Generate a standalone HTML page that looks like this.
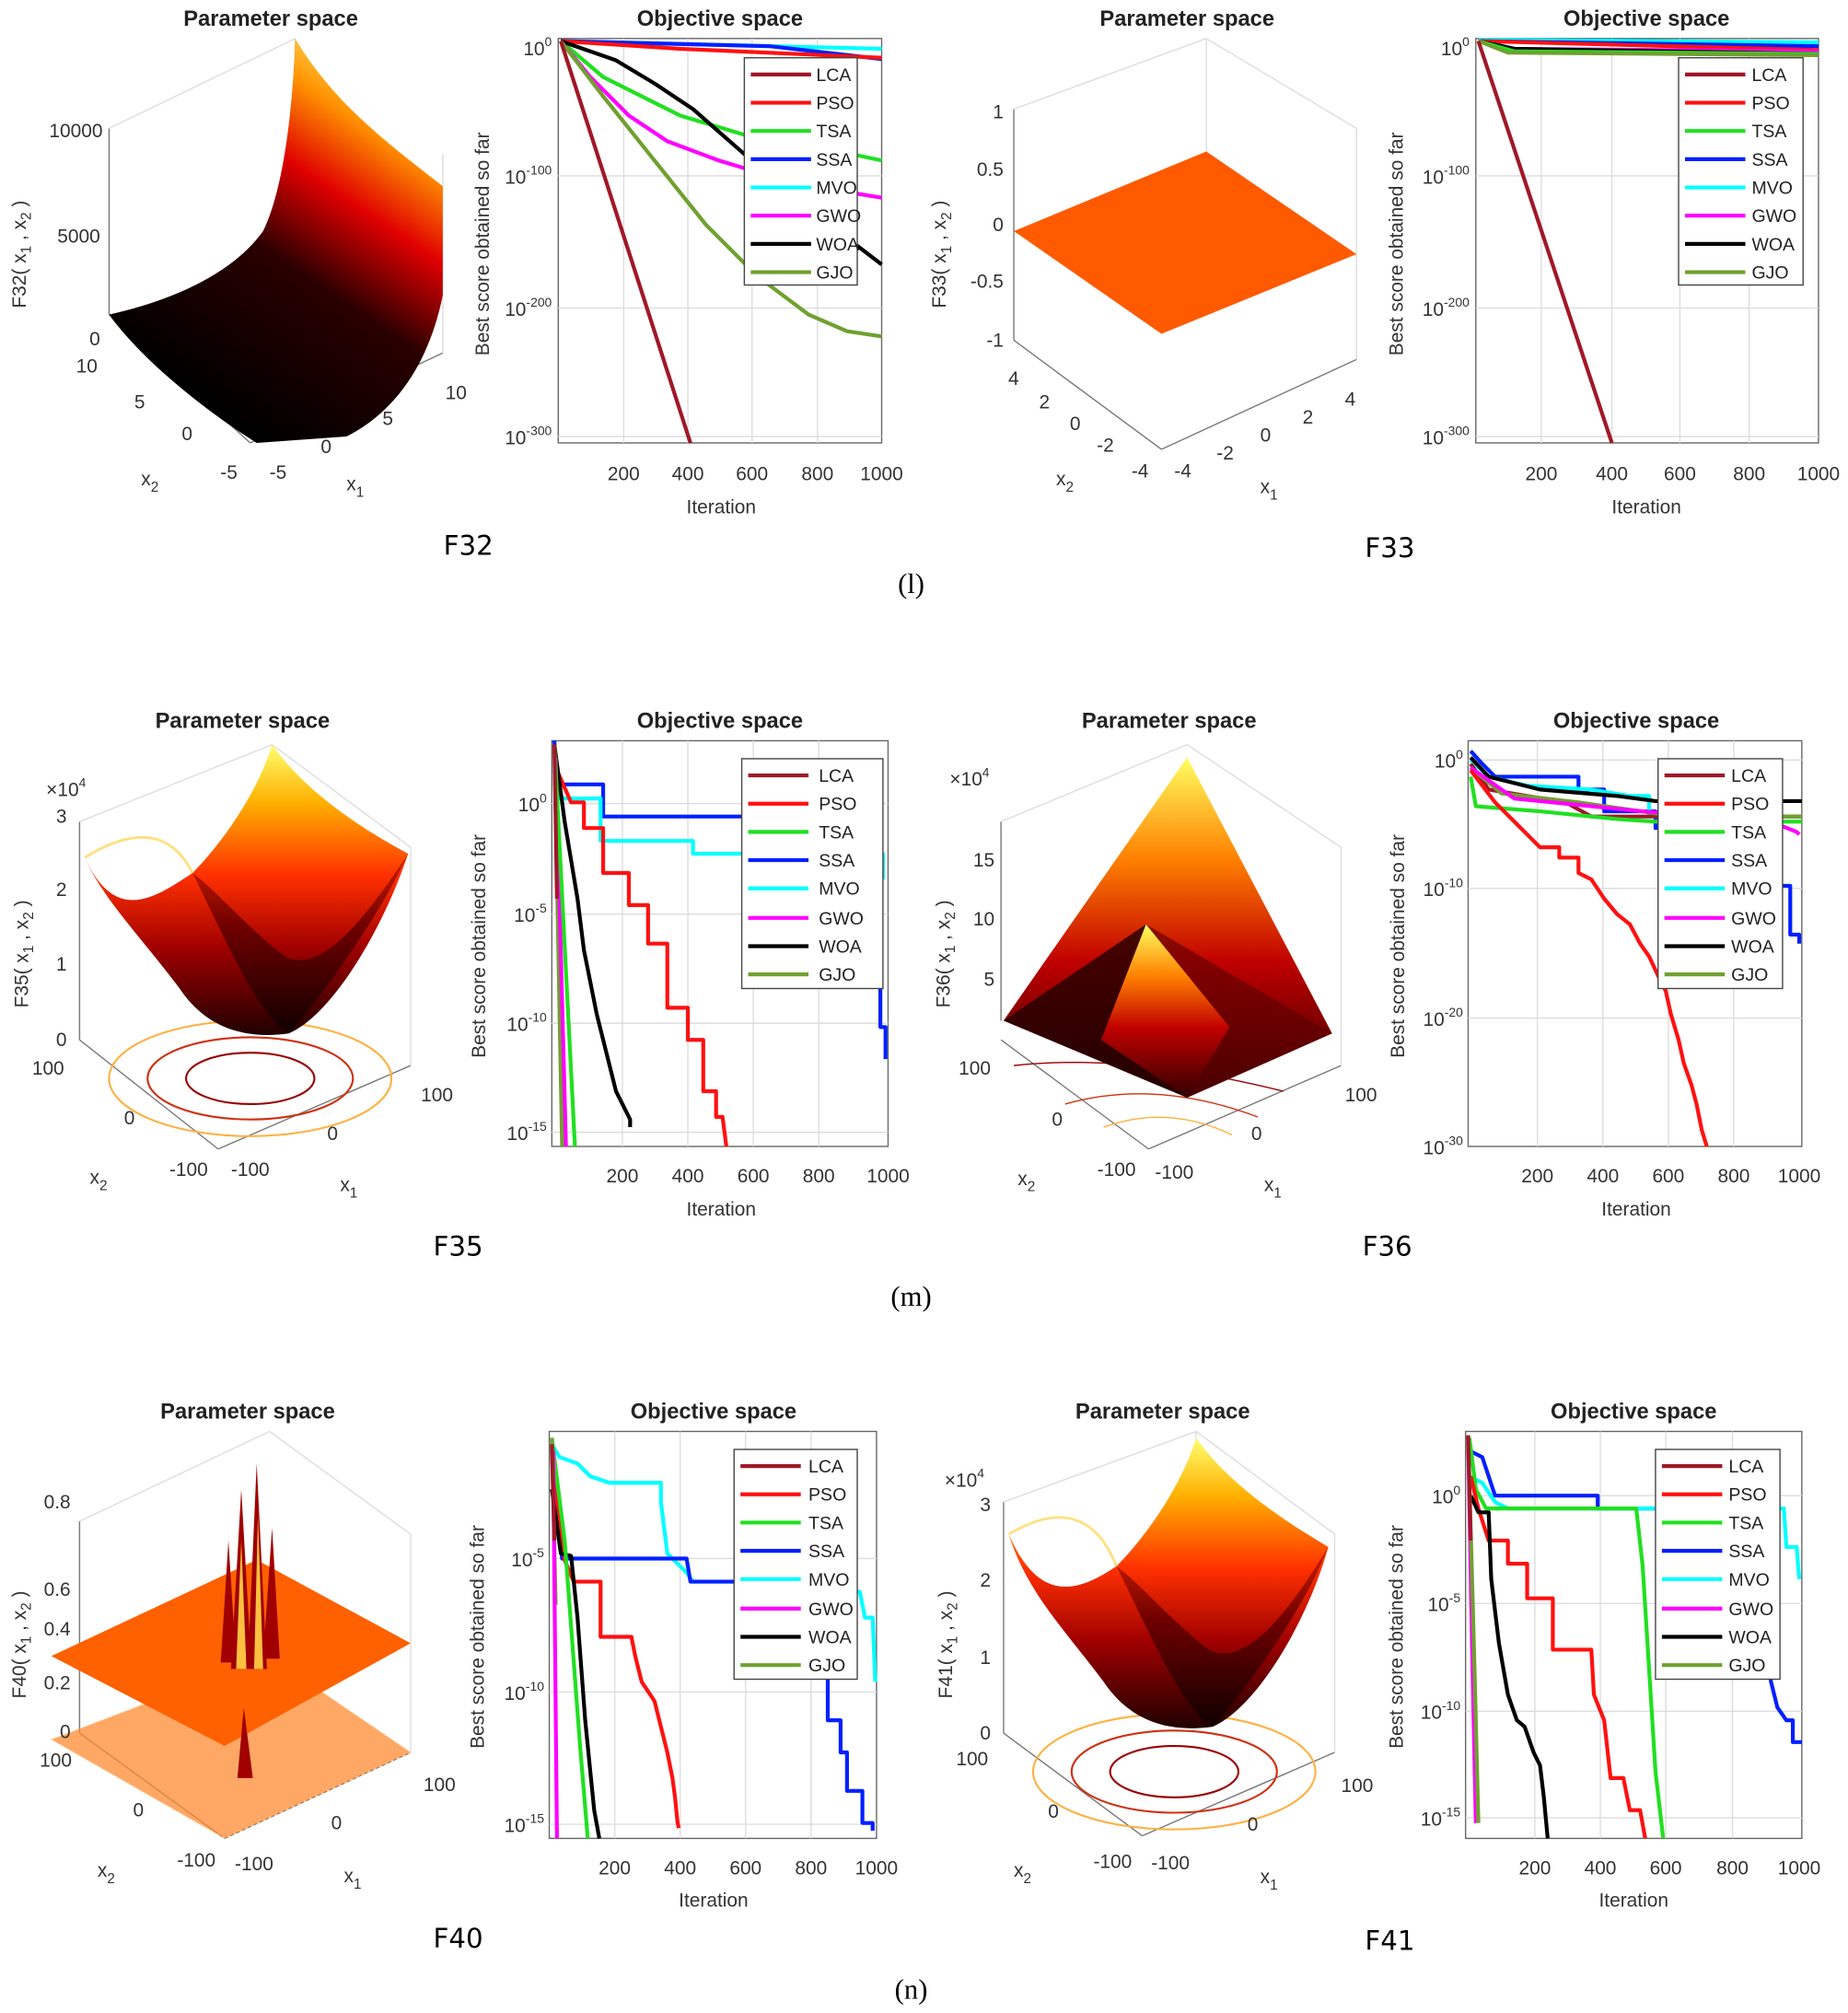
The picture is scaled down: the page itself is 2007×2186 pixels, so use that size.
<!DOCTYPE html>
<html><head><meta charset="utf-8"><style>
html,body{margin:0;padding:0;background:#fff}
svg{display:block}
text{font-family:"Liberation Sans",Arial,sans-serif;fill:#222}
.t{font-weight:bold;font-size:17px}
.tk{font-size:15px;fill:#333}
.lg{font-size:14px}
.cap{font-family:"Liberation Serif",serif;font-size:22px;fill:#000}
.fl{font-family:"DejaVu Sans",sans-serif;font-size:21px;fill:#000}
.g{stroke:#ddd;stroke-width:1}
.ax{fill:none;stroke:#777;stroke-width:1}
.c{fill:none;stroke-width:3;stroke-linejoin:round}
</style></head><body>
<svg width="2007" height="2186" viewBox="0 0 1440 1568" preserveAspectRatio="none" xmlns="http://www.w3.org/2000/svg">
<defs>
<linearGradient id="hot1" x1="0.3" y1="0.9" x2="0.8" y2="0">
<stop offset="0" stop-color="#000"/><stop offset="0.4" stop-color="#2a0000"/><stop offset="0.62" stop-color="#e00000"/><stop offset="0.8" stop-color="#ff9000"/><stop offset="1" stop-color="#ffff80"/></linearGradient>
<linearGradient id="hot2" x1="0" y1="1" x2="0" y2="0">
<stop offset="0" stop-color="#200000"/><stop offset="0.3" stop-color="#a00000"/><stop offset="0.55" stop-color="#ff3000"/><stop offset="0.8" stop-color="#ffb000"/><stop offset="1" stop-color="#ffff70"/></linearGradient>
<linearGradient id="dk" x1="0" y1="1" x2="0" y2="0">
<stop offset="0" stop-color="#100000"/><stop offset="0.6" stop-color="#700000"/><stop offset="1" stop-color="#d02000"/></linearGradient>
<linearGradient id="hot3" x1="0" y1="1" x2="0" y2="0">
<stop offset="0" stop-color="#300000"/><stop offset="0.4" stop-color="#c00000"/><stop offset="0.7" stop-color="#ff8000"/><stop offset="1" stop-color="#ffff60"/></linearGradient>
</defs>

<!-- ============ ROW 1 ============ -->
<text class="t" x="211" y="20" text-anchor="middle">Parameter space</text>
<g class="ax">
<line x1="85" y1="100" x2="85" y2="245"/><line x1="85" y1="245" x2="195" y2="345"/><line x1="195" y1="345" x2="345" y2="275"/>
<line x1="85" y1="100" x2="230" y2="30" stroke="#ddd"/><line x1="230" y1="30" x2="230" y2="180" stroke="#ddd"/><line x1="345" y1="120" x2="345" y2="275" stroke="#ddd"/>
</g>
<path d="M85,245 C130,235 180,215 205,180 C220,150 228,90 230,30 C260,80 300,110 345,145 L345,230 C335,280 310,320 270,340 L200,345 C160,320 110,280 85,245 Z" fill="url(#hot1)"/>
<text class="tk" x="80" y="107" text-anchor="end">10000</text><text class="tk" x="78" y="189" text-anchor="end">5000</text><text class="tk" x="78" y="269" text-anchor="end">0</text>
<text class="tk" x="76" y="290" text-anchor="end">10</text><text class="tk" x="113" y="318" text-anchor="end">5</text><text class="tk" x="150" y="343" text-anchor="end">0</text><text class="tk" x="185" y="373" text-anchor="end">-5</text>
<text class="tk" x="210" y="373">-5</text><text class="tk" x="250" y="353">0</text><text class="tk" x="298" y="331">5</text><text class="tk" x="347" y="311">10</text>
<text class="tk" x="110" y="378">x<tspan font-size="11" dy="5">2</tspan></text><text class="tk" x="270" y="382">x<tspan font-size="11" dy="5">1</tspan></text>
<text class="tk" transform="translate(20,240) rotate(-90)">F32( x<tspan font-size="11" dy="4">1</tspan><tspan dy="-4"> , x</tspan><tspan font-size="11" dy="4">2</tspan><tspan dy="-4"> )</tspan></text>

<text class="t" x="561" y="20" text-anchor="middle">Objective space</text>
<rect x="435" y="30" width="252" height="315" fill="#fff" stroke="#666"/>
<g class="g"><line x1="486" y1="30" x2="486" y2="345"/><line x1="536" y1="30" x2="536" y2="345"/><line x1="586" y1="30" x2="586" y2="345"/><line x1="637" y1="30" x2="637" y2="345"/><line x1="435" y1="137" x2="687" y2="137"/><line x1="435" y1="240" x2="687" y2="240"/><line x1="435" y1="340" x2="687" y2="340"/></g>
<polyline class="c" stroke="#00ffff" points="437,32 687,38"/>
<polyline class="c" stroke="#0020ff" points="437,32 600,36 687,46"/>
<polyline class="c" stroke="#ff1010" points="437,32 530,38 620,42 687,45"/>
<polyline class="c" stroke="#20e020" points="437,32 470,60 530,90 580,105 640,115 687,125"/>
<polyline class="c" stroke="#ff00ff" points="437,32 460,60 490,90 520,110 560,125 620,143 687,154"/>
<polyline class="c" stroke="#000" points="437,32 460,40 480,47 510,65 540,85 580,120 640,170 687,206"/>
<polyline class="c" stroke="#70a030" points="437,32 470,75 510,125 550,175 590,215 630,245 660,258 687,262"/>
<polyline class="c" stroke="#a01828" stroke-width="2.5" points="437,32 538,345"/>
<g>
<rect x="580" y="45" width="88" height="177" fill="#fff" stroke="#444"/>
<g stroke-width="3"><line x1="585" y1="58" x2="632" y2="58" stroke="#a01828"/><line x1="585" y1="80" x2="632" y2="80" stroke="#ff1010"/><line x1="585" y1="102" x2="632" y2="102" stroke="#20e020"/><line x1="585" y1="124" x2="632" y2="124" stroke="#0020ff"/><line x1="585" y1="146" x2="632" y2="146" stroke="#00ffff"/><line x1="585" y1="168" x2="632" y2="168" stroke="#ff00ff"/><line x1="585" y1="190" x2="632" y2="190" stroke="#000"/><line x1="585" y1="212" x2="632" y2="212" stroke="#70a030"/></g>
<g class="lg"><text x="636" y="63">LCA</text><text x="636" y="85">PSO</text><text x="636" y="107">TSA</text><text x="636" y="129">SSA</text><text x="636" y="151">MVO</text><text x="636" y="173">GWO</text><text x="636" y="195">WOA</text><text x="636" y="217">GJO</text></g></g>
<text class="tk" x="430" y="43" text-anchor="end">10<tspan font-size="10" dy="-7">0</tspan></text>
<text class="tk" x="430" y="143" text-anchor="end">10<tspan font-size="10" dy="-7">-100</tspan></text>
<text class="tk" x="430" y="246" text-anchor="end">10<tspan font-size="10" dy="-7">-200</tspan></text>
<text class="tk" x="430" y="346" text-anchor="end">10<tspan font-size="10" dy="-7">-300</tspan></text>
<text class="tk" x="486" y="374" text-anchor="middle">200</text><text class="tk" x="536" y="374" text-anchor="middle">400</text><text class="tk" x="586" y="374" text-anchor="middle">600</text><text class="tk" x="637" y="374" text-anchor="middle">800</text><text class="tk" x="687" y="374" text-anchor="middle">1000</text>
<text class="tk" x="562" y="400" text-anchor="middle" font-size="16">Iteration</text>
<text class="tk" font-size="16" transform="translate(381,190) rotate(-90)" text-anchor="middle">Best score obtained so far</text>
<text class="fl" x="365" y="432" text-anchor="middle">F32</text>

<!-- F33 -->
<text class="t" x="925" y="20" text-anchor="middle">Parameter space</text>
<g class="ax">
<line x1="790" y1="85" x2="790" y2="265"/><line x1="790" y1="265" x2="905" y2="350"/><line x1="905" y1="350" x2="1057" y2="280"/>
<line x1="790" y1="85" x2="940" y2="30" stroke="#ddd"/><line x1="940" y1="30" x2="1057" y2="100" stroke="#ddd"/><line x1="1057" y1="100" x2="1057" y2="280" stroke="#ddd"/><line x1="940" y1="30" x2="940" y2="210" stroke="#ddd"/>
</g>
<polygon points="790,180 940,118 1057,198 905,260" fill="#ff5a00"/>
<text class="tk" x="782" y="92" text-anchor="end">1</text><text class="tk" x="782" y="137" text-anchor="end">0.5</text><text class="tk" x="782" y="180" text-anchor="end">0</text><text class="tk" x="782" y="224" text-anchor="end">-0.5</text><text class="tk" x="782" y="270" text-anchor="end">-1</text>
<text class="tk" x="794" y="300" text-anchor="end">4</text><text class="tk" x="818" y="318" text-anchor="end">2</text><text class="tk" x="842" y="335" text-anchor="end">0</text><text class="tk" x="868" y="352" text-anchor="end">-2</text><text class="tk" x="895" y="372" text-anchor="end">-4</text>
<text class="tk" x="915" y="372">-4</text><text class="tk" x="948" y="358">-2</text><text class="tk" x="982" y="344">0</text><text class="tk" x="1015" y="330">2</text><text class="tk" x="1048" y="316">4</text>
<text class="tk" x="823" y="378">x<tspan font-size="11" dy="5">2</tspan></text><text class="tk" x="982" y="384">x<tspan font-size="11" dy="5">1</tspan></text>
<text class="tk" transform="translate(737,240) rotate(-90)">F33( x<tspan font-size="11" dy="4">1</tspan><tspan dy="-4"> , x</tspan><tspan font-size="11" dy="4">2</tspan><tspan dy="-4"> )</tspan></text>

<text class="t" x="1283" y="20" text-anchor="middle">Objective space</text>
<rect x="1150" y="30" width="267" height="315" fill="#fff" stroke="#666"/>
<g class="g"><line x1="1201" y1="30" x2="1201" y2="345"/><line x1="1256" y1="30" x2="1256" y2="345"/><line x1="1309" y1="30" x2="1309" y2="345"/><line x1="1363" y1="30" x2="1363" y2="345"/><line x1="1150" y1="137" x2="1417" y2="137"/><line x1="1150" y1="240" x2="1417" y2="240"/><line x1="1150" y1="340" x2="1417" y2="340"/></g>
<polyline class="c" stroke="#00ffff" points="1152,31 1417,33"/>
<polyline class="c" stroke="#0020ff" points="1152,32 1417,36"/>
<polyline class="c" stroke="#ff1010" points="1152,32 1417,39"/>
<polyline class="c" stroke="#ff00ff" points="1152,32 1180,38 1417,40"/>
<polyline class="c" stroke="#000" points="1152,32 1180,38 1417,42"/>
<polyline class="c" stroke="#20e020" points="1152,32 1180,40 1417,42"/>
<polyline class="c" stroke="#70a030" points="1152,32 1175,41 1417,43"/>
<polyline class="c" stroke="#a01828" stroke-width="2.5" points="1152,32 1256,345"/>
<g transform="translate(728,0)">
<rect x="580" y="45" width="97" height="177" fill="#fff" stroke="#444"/>
<g stroke-width="3"><line x1="585" y1="58" x2="632" y2="58" stroke="#a01828"/><line x1="585" y1="80" x2="632" y2="80" stroke="#ff1010"/><line x1="585" y1="102" x2="632" y2="102" stroke="#20e020"/><line x1="585" y1="124" x2="632" y2="124" stroke="#0020ff"/><line x1="585" y1="146" x2="632" y2="146" stroke="#00ffff"/><line x1="585" y1="168" x2="632" y2="168" stroke="#ff00ff"/><line x1="585" y1="190" x2="632" y2="190" stroke="#000"/><line x1="585" y1="212" x2="632" y2="212" stroke="#70a030"/></g>
<g class="lg"><text x="637" y="63">LCA</text><text x="637" y="85">PSO</text><text x="637" y="107">TSA</text><text x="637" y="129">SSA</text><text x="637" y="151">MVO</text><text x="637" y="173">GWO</text><text x="637" y="195">WOA</text><text x="637" y="217">GJO</text></g></g>
<text class="tk" x="1145" y="43" text-anchor="end">10<tspan font-size="10" dy="-7">0</tspan></text>
<text class="tk" x="1145" y="143" text-anchor="end">10<tspan font-size="10" dy="-7">-100</tspan></text>
<text class="tk" x="1145" y="246" text-anchor="end">10<tspan font-size="10" dy="-7">-200</tspan></text>
<text class="tk" x="1145" y="346" text-anchor="end">10<tspan font-size="10" dy="-7">-300</tspan></text>
<text class="tk" x="1201" y="374" text-anchor="middle">200</text><text class="tk" x="1256" y="374" text-anchor="middle">400</text><text class="tk" x="1309" y="374" text-anchor="middle">600</text><text class="tk" x="1363" y="374" text-anchor="middle">800</text><text class="tk" x="1417" y="374" text-anchor="middle">1000</text>
<text class="tk" x="1283" y="400" text-anchor="middle" font-size="16">Iteration</text>
<text class="tk" font-size="16" transform="translate(1093,190) rotate(-90)" text-anchor="middle">Best score obtained so far</text>
<text class="fl" x="1083" y="434" text-anchor="middle">F33</text>
<text class="cap" x="710" y="462" text-anchor="middle">(l)</text>

<!-- ============ ROW 2 ============ -->
<text class="t" x="189" y="567" text-anchor="middle">Parameter space</text>
<g class="ax">
<line x1="62" y1="640" x2="62" y2="810"/><line x1="62" y1="810" x2="170" y2="895"/><line x1="170" y1="895" x2="320" y2="830"/>
<line x1="62" y1="640" x2="212" y2="580" stroke="#ddd"/><line x1="212" y1="580" x2="320" y2="660" stroke="#ddd"/><line x1="320" y1="660" x2="320" y2="830" stroke="#ddd"/><line x1="212" y1="580" x2="212" y2="750" stroke="#ddd"/>
</g>
<ellipse cx="195" cy="840" rx="110" ry="45" fill="none" stroke="#ffb040" stroke-width="1.5"/><ellipse cx="195" cy="840" rx="80" ry="32" fill="none" stroke="#d03010" stroke-width="1.5"/><ellipse cx="195" cy="840" rx="50" ry="20" fill="none" stroke="#900" stroke-width="1.5"/>
<path d="M66,668 C90,720 120,700 150,680 C170,660 200,620 212,580 C240,620 290,650 318,665 C300,720 260,790 225,805 C190,810 160,800 140,770 C110,730 80,700 66,668 Z" fill="url(#hot2)"/>
<path d="M150,680 C175,730 200,790 225,805 C260,765 300,705 318,665 C285,715 250,760 222,745 C195,725 170,695 150,680 Z" fill="url(#dk)"/>
<path d="M66,668 C95,650 130,640 150,680" fill="none" stroke="#ffe080" stroke-width="2"/>
<text class="tk" x="36" y="620">×10<tspan font-size="10" dy="-7">4</tspan></text>
<text class="tk" x="52" y="641" text-anchor="end">3</text><text class="tk" x="52" y="698" text-anchor="end">2</text><text class="tk" x="52" y="756" text-anchor="end">1</text><text class="tk" x="52" y="815" text-anchor="end">0</text>
<text class="tk" x="50" y="837" text-anchor="end">100</text><text class="tk" x="105" y="876" text-anchor="end">0</text><text class="tk" x="162" y="916" text-anchor="end">-100</text>
<text class="tk" x="180" y="916">-100</text><text class="tk" x="255" y="888">0</text><text class="tk" x="328" y="858">100</text>
<text class="tk" x="70" y="922">x<tspan font-size="11" dy="5">2</tspan></text><text class="tk" x="265" y="928">x<tspan font-size="11" dy="5">1</tspan></text>
<text class="tk" transform="translate(22,785) rotate(-90)">F35( x<tspan font-size="11" dy="4">1</tspan><tspan dy="-4"> , x</tspan><tspan font-size="11" dy="4">2</tspan><tspan dy="-4"> )</tspan></text>

<text class="t" x="561" y="567" text-anchor="middle">Objective space</text>
<rect x="430" y="577" width="262" height="316" fill="#fff" stroke="#666"/>
<g class="g"><line x1="485" y1="577" x2="485" y2="893"/><line x1="536" y1="577" x2="536" y2="893"/><line x1="587" y1="577" x2="587" y2="893"/><line x1="638" y1="577" x2="638" y2="893"/><line x1="430" y1="626" x2="692" y2="626"/><line x1="430" y1="712" x2="692" y2="712"/><line x1="430" y1="797" x2="692" y2="797"/><line x1="430" y1="882" x2="692" y2="882"/></g>
<polyline class="c" stroke="#0020ff" points="432,577 434,611 470,611 470,636 580,636 580,660 640,660 640,680 680,680 680,765 686,765 686,800 690,800 690,825"/>
<polyline class="c" stroke="#00ffff" points="432,600 436,622 468,622 468,655 540,655 540,665 688,665 688,685"/>
<polyline class="c" stroke="#ff1010" points="434,600 445,625 455,625 455,645 470,645 470,680 490,680 490,705 505,705 505,735 520,735 520,785 536,785 536,810 548,810 548,850 558,850 558,870 563,870 566,893"/>
<polyline class="c" stroke="#000" points="432,580 440,640 445,670 450,700 455,740 460,765 465,790 470,810 475,830 480,850 485,860 491,872 491,878"/>
<polyline class="c" stroke="#70a030" points="432,580 438,893"/>
<polyline class="c" stroke="#ff00ff" points="433,590 441,893"/>
<polyline class="c" stroke="#20e020" points="432,580 448,893"/>
<polyline class="c" stroke="#a01828" points="432,580 434,700"/>
<g transform="translate(-2,546)">
<rect x="580" y="45" width="110" height="179" fill="#fff" stroke="#444"/>
<g stroke-width="3"><line x1="585" y1="58" x2="632" y2="58" stroke="#a01828"/><line x1="585" y1="80" x2="632" y2="80" stroke="#ff1010"/><line x1="585" y1="102" x2="632" y2="102" stroke="#20e020"/><line x1="585" y1="124" x2="632" y2="124" stroke="#0020ff"/><line x1="585" y1="146" x2="632" y2="146" stroke="#00ffff"/><line x1="585" y1="169" x2="632" y2="169" stroke="#ff00ff"/><line x1="585" y1="191" x2="632" y2="191" stroke="#000"/><line x1="585" y1="213" x2="632" y2="213" stroke="#70a030"/></g>
<g class="lg"><text x="640" y="63">LCA</text><text x="640" y="85">PSO</text><text x="640" y="107">TSA</text><text x="640" y="129">SSA</text><text x="640" y="151">MVO</text><text x="640" y="174">GWO</text><text x="640" y="196">WOA</text><text x="640" y="218">GJO</text></g></g>
<text class="tk" x="426" y="632" text-anchor="end">10<tspan font-size="10" dy="-7">0</tspan></text>
<text class="tk" x="426" y="718" text-anchor="end">10<tspan font-size="10" dy="-7">-5</tspan></text>
<text class="tk" x="426" y="803" text-anchor="end">10<tspan font-size="10" dy="-7">-10</tspan></text>
<text class="tk" x="426" y="888" text-anchor="end">10<tspan font-size="10" dy="-7">-15</tspan></text>
<text class="tk" x="485" y="921" text-anchor="middle">200</text><text class="tk" x="536" y="921" text-anchor="middle">400</text><text class="tk" x="587" y="921" text-anchor="middle">600</text><text class="tk" x="638" y="921" text-anchor="middle">800</text><text class="tk" x="692" y="921" text-anchor="middle">1000</text>
<text class="tk" x="562" y="947" text-anchor="middle" font-size="16">Iteration</text>
<text class="tk" font-size="16" transform="translate(378,737) rotate(-90)" text-anchor="middle">Best score obtained so far</text>
<text class="fl" x="357" y="978" text-anchor="middle">F35</text>

<!-- F36 -->
<text class="t" x="911" y="567" text-anchor="middle">Parameter space</text>
<g class="ax">
<line x1="780" y1="640" x2="780" y2="795"/><line x1="780" y1="810" x2="895" y2="895"/><line x1="895" y1="895" x2="1045" y2="830"/>
<line x1="780" y1="640" x2="925" y2="580" stroke="#ddd"/><line x1="925" y1="580" x2="1045" y2="660" stroke="#ddd"/><line x1="1045" y1="660" x2="1045" y2="830" stroke="#ddd"/>
</g>
<path d="M790,830 Q880,820 1000,850" fill="none" stroke="#900"/><path d="M830,860 Q900,840 980,870" fill="none" stroke="#d03010"/><path d="M860,878 Q910,860 960,884" fill="none" stroke="#ffb040"/>
<polygon points="782,795 925,590 1038,805 925,855" fill="url(#hot3)"/>
<polygon points="782,795 893,720 925,855" fill="#200000" opacity="0.8"/>
<polygon points="893,720 1038,805 925,855" fill="#5a0000" opacity="0.6"/>
<polygon points="893,720 858,810 925,855 958,800" fill="url(#hot3)"/>
<text class="tk" x="740" y="612">×10<tspan font-size="10" dy="-7">4</tspan></text>
<text class="tk" x="775" y="675" text-anchor="end">15</text><text class="tk" x="775" y="721" text-anchor="end">10</text><text class="tk" x="775" y="768" text-anchor="end">5</text>
<text class="tk" x="772" y="837" text-anchor="end">100</text><text class="tk" x="828" y="877" text-anchor="end">0</text><text class="tk" x="885" y="916" text-anchor="end">-100</text>
<text class="tk" x="900" y="918">-100</text><text class="tk" x="975" y="888">0</text><text class="tk" x="1048" y="858">100</text>
<text class="tk" x="793" y="923">x<tspan font-size="11" dy="5">2</tspan></text><text class="tk" x="985" y="928">x<tspan font-size="11" dy="5">1</tspan></text>
<text class="tk" transform="translate(740,785) rotate(-90)">F36( x<tspan font-size="11" dy="4">1</tspan><tspan dy="-4"> , x</tspan><tspan font-size="11" dy="4">2</tspan><tspan dy="-4"> )</tspan></text>

<text class="t" x="1275" y="567" text-anchor="middle">Objective space</text>
<rect x="1144" y="577" width="260" height="316" fill="#fff" stroke="#666"/>
<g class="g"><line x1="1198" y1="577" x2="1198" y2="893"/><line x1="1249" y1="577" x2="1249" y2="893"/><line x1="1300" y1="577" x2="1300" y2="893"/><line x1="1351" y1="577" x2="1351" y2="893"/><line x1="1144" y1="592" x2="1404" y2="592"/><line x1="1144" y1="692" x2="1404" y2="692"/><line x1="1144" y1="793" x2="1404" y2="793"/></g>
<polyline class="c" stroke="#0020ff" points="1146,585 1155,595 1165,605 1230,605 1230,615 1250,615 1250,632 1290,632 1290,645 1385,645 1385,690 1395,690 1395,728 1402,728 1402,735"/>
<polyline class="c" stroke="#00ffff" points="1146,592 1160,605 1190,612 1240,615 1270,620 1285,620 1285,636 1404,636"/>
<polyline class="c" stroke="#000" points="1146,590 1160,605 1200,615 1260,620 1290,624 1404,624"/>
<polyline class="c" stroke="#a01828" points="1146,595 1160,615 1220,625 1240,636 1404,636"/>
<polyline class="c" stroke="#70a030" points="1146,598 1170,618 1230,625 1300,635 1404,636"/>
<polyline class="c" stroke="#ff00ff" points="1146,598 1180,622 1240,628 1280,632 1380,640 1400,648 1402,650"/>
<polyline class="c" stroke="#20e020" points="1146,605 1150,628 1200,632 1260,638 1290,640 1404,640"/>
<polyline class="c" stroke="#ff1010" points="1146,600 1165,625 1180,640 1190,650 1200,660 1215,660 1215,668 1230,668 1230,680 1240,685 1250,700 1260,712 1270,720 1278,735 1285,745 1292,760 1298,772 1302,790 1308,810 1312,828 1318,845 1322,860 1326,880 1330,893"/>
<g transform="translate(712,546)">
<rect x="580" y="45" width="97" height="179" fill="#fff" stroke="#444"/>
<g stroke-width="3"><line x1="585" y1="58" x2="632" y2="58" stroke="#a01828"/><line x1="585" y1="80" x2="632" y2="80" stroke="#ff1010"/><line x1="585" y1="102" x2="632" y2="102" stroke="#20e020"/><line x1="585" y1="124" x2="632" y2="124" stroke="#0020ff"/><line x1="585" y1="146" x2="632" y2="146" stroke="#00ffff"/><line x1="585" y1="169" x2="632" y2="169" stroke="#ff00ff"/><line x1="585" y1="191" x2="632" y2="191" stroke="#000"/><line x1="585" y1="213" x2="632" y2="213" stroke="#70a030"/></g>
<g class="lg"><text x="637" y="63">LCA</text><text x="637" y="85">PSO</text><text x="637" y="107">TSA</text><text x="637" y="129">SSA</text><text x="637" y="151">MVO</text><text x="637" y="174">GWO</text><text x="637" y="196">WOA</text><text x="637" y="218">GJO</text></g></g>
<text class="tk" x="1140" y="598" text-anchor="end">10<tspan font-size="10" dy="-7">0</tspan></text>
<text class="tk" x="1140" y="698" text-anchor="end">10<tspan font-size="10" dy="-7">-10</tspan></text>
<text class="tk" x="1140" y="799" text-anchor="end">10<tspan font-size="10" dy="-7">-20</tspan></text>
<text class="tk" x="1140" y="899" text-anchor="end">10<tspan font-size="10" dy="-7">-30</tspan></text>
<text class="tk" x="1198" y="921" text-anchor="middle">200</text><text class="tk" x="1249" y="921" text-anchor="middle">400</text><text class="tk" x="1300" y="921" text-anchor="middle">600</text><text class="tk" x="1351" y="921" text-anchor="middle">800</text><text class="tk" x="1402" y="921" text-anchor="middle">1000</text>
<text class="tk" x="1275" y="947" text-anchor="middle" font-size="16">Iteration</text>
<text class="tk" font-size="16" transform="translate(1094,737) rotate(-90)" text-anchor="middle">Best score obtained so far</text>
<text class="fl" x="1081" y="978" text-anchor="middle">F36</text>
<text class="cap" x="710" y="1017" text-anchor="middle">(m)</text>

<!-- ============ ROW 3 ============ -->
<text class="t" x="193" y="1105" text-anchor="middle">Parameter space</text>
<g class="ax">
<line x1="62" y1="1185" x2="62" y2="1350"/><line x1="62" y1="1350" x2="175" y2="1432"/><line x1="175" y1="1432" x2="320" y2="1365"/>
<line x1="62" y1="1185" x2="210" y2="1115" stroke="#ddd"/><line x1="210" y1="1115" x2="320" y2="1195" stroke="#ddd"/><line x1="320" y1="1195" x2="320" y2="1365" stroke="#ddd"/>
</g>
<polygon points="40,1355 210,1290 320,1365 175,1432" fill="#ff8a30" opacity="0.75"/>
<polygon points="40,1355 210,1290 320,1365 175,1432" fill="none" stroke="#ffd0a0" stroke-dasharray="2 3"/>
<polygon points="40,1290 200,1215 320,1280 175,1360" fill="#ff6000"/>
<g fill="#a00000"><polygon points="180,1300 188,1160 196,1300"/><polygon points="193,1300 200,1140 208,1300"/><polygon points="172,1295 178,1200 184,1295"/><polygon points="205,1292 212,1190 218,1292"/><polygon points="185,1385 190,1330 197,1385"/></g>
<g fill="#ffc040"><polygon points="184,1300 188,1200 192,1300"/><polygon points="198,1300 201,1180 205,1300"/></g>
<text class="tk" x="55" y="1175" text-anchor="end">0.8</text><text class="tk" x="55" y="1243" text-anchor="end">0.6</text><text class="tk" x="55" y="1274" text-anchor="end">0.4</text><text class="tk" x="55" y="1316" text-anchor="end">0.2</text><text class="tk" x="55" y="1354" text-anchor="end">0</text>
<text class="tk" x="56" y="1376" text-anchor="end">100</text><text class="tk" x="112" y="1415" text-anchor="end">0</text><text class="tk" x="168" y="1454" text-anchor="end">-100</text>
<text class="tk" x="183" y="1457">-100</text><text class="tk" x="258" y="1425">0</text><text class="tk" x="330" y="1395">100</text>
<text class="tk" x="76" y="1462">x<tspan font-size="11" dy="5">2</tspan></text><text class="tk" x="268" y="1466">x<tspan font-size="11" dy="5">1</tspan></text>
<text class="tk" transform="translate(20,1323) rotate(-90)">F40( x<tspan font-size="11" dy="4">1</tspan><tspan dy="-4"> , x</tspan><tspan font-size="11" dy="4">2</tspan><tspan dy="-4"> )</tspan></text>

<text class="t" x="556" y="1105" text-anchor="middle">Objective space</text>
<rect x="428" y="1115" width="255" height="317" fill="#fff" stroke="#666"/>
<g class="g"><line x1="479" y1="1115" x2="479" y2="1432"/><line x1="530" y1="1115" x2="530" y2="1432"/><line x1="581" y1="1115" x2="581" y2="1432"/><line x1="632" y1="1115" x2="632" y2="1432"/><line x1="428" y1="1214" x2="683" y2="1214"/><line x1="428" y1="1318" x2="683" y2="1318"/><line x1="428" y1="1421" x2="683" y2="1421"/></g>
<polyline class="c" stroke="#00ffff" points="430,1125 436,1135 450,1140 460,1150 475,1155 515,1155 515,1170 520,1210 535,1225 540,1232 580,1232 640,1235 670,1240 674,1260 680,1260 682,1310"/>
<polyline class="c" stroke="#0020ff" points="430,1130 434,1180 438,1214 535,1214 538,1232 625,1232 630,1260 635,1260 635,1300 645,1300 645,1340 655,1340 655,1365 660,1365 660,1395 672,1395 672,1420 680,1420 680,1426"/>
<polyline class="c" stroke="#ff1010" points="432,1150 440,1215 447,1232 468,1232 468,1275 492,1275 495,1290 500,1310 510,1325 515,1345 520,1365 524,1385 526,1400 528,1420 529,1424"/>
<polyline class="c" stroke="#000" points="430,1160 437,1210 445,1212 450,1260 453,1300 456,1340 460,1380 463,1410 467,1432"/>
<polyline class="c" stroke="#20e020" points="430,1120 440,1200 446,1280 452,1360 458,1432"/>
<polyline class="c" stroke="#70a030" points="430,1120 433,1250"/>
<polyline class="c" stroke="#ff00ff" points="431,1130 434,1432"/>
<polyline class="c" stroke="#a01828" points="430,1125 432,1200"/>
<g transform="translate(-8,1084)">
<rect x="580" y="45" width="96" height="179" fill="#fff" stroke="#444"/>
<g stroke-width="3"><line x1="585" y1="58" x2="632" y2="58" stroke="#a01828"/><line x1="585" y1="80" x2="632" y2="80" stroke="#ff1010"/><line x1="585" y1="102" x2="632" y2="102" stroke="#20e020"/><line x1="585" y1="124" x2="632" y2="124" stroke="#0020ff"/><line x1="585" y1="146" x2="632" y2="146" stroke="#00ffff"/><line x1="585" y1="169" x2="632" y2="169" stroke="#ff00ff"/><line x1="585" y1="191" x2="632" y2="191" stroke="#000"/><line x1="585" y1="213" x2="632" y2="213" stroke="#70a030"/></g>
<g class="lg"><text x="638" y="63">LCA</text><text x="638" y="85">PSO</text><text x="638" y="107">TSA</text><text x="638" y="129">SSA</text><text x="638" y="151">MVO</text><text x="638" y="174">GWO</text><text x="638" y="196">WOA</text><text x="638" y="218">GJO</text></g></g>
<text class="tk" x="424" y="1220" text-anchor="end">10<tspan font-size="10" dy="-7">-5</tspan></text>
<text class="tk" x="424" y="1324" text-anchor="end">10<tspan font-size="10" dy="-7">-10</tspan></text>
<text class="tk" x="424" y="1427" text-anchor="end">10<tspan font-size="10" dy="-7">-15</tspan></text>
<text class="tk" x="479" y="1460" text-anchor="middle">200</text><text class="tk" x="530" y="1460" text-anchor="middle">400</text><text class="tk" x="581" y="1460" text-anchor="middle">600</text><text class="tk" x="632" y="1460" text-anchor="middle">800</text><text class="tk" x="683" y="1460" text-anchor="middle">1000</text>
<text class="tk" x="556" y="1485" text-anchor="middle" font-size="16">Iteration</text>
<text class="tk" font-size="16" transform="translate(377,1275) rotate(-90)" text-anchor="middle">Best score obtained so far</text>
<text class="fl" x="357" y="1517" text-anchor="middle">F40</text>

<!-- F41 -->
<text class="t" x="906" y="1105" text-anchor="middle">Parameter space</text>
<g class="ax">
<line x1="782" y1="1170" x2="782" y2="1350"/><line x1="782" y1="1350" x2="890" y2="1430"/><line x1="890" y1="1430" x2="1040" y2="1365"/>
<line x1="782" y1="1170" x2="932" y2="1115" stroke="#ddd"/><line x1="932" y1="1115" x2="1040" y2="1195" stroke="#ddd"/><line x1="1040" y1="1195" x2="1040" y2="1365" stroke="#ddd"/><line x1="932" y1="1115" x2="932" y2="1290" stroke="#ddd"/>
</g>
<ellipse cx="915" cy="1380" rx="110" ry="45" fill="none" stroke="#ffb040" stroke-width="1.5"/><ellipse cx="915" cy="1380" rx="80" ry="32" fill="none" stroke="#d03010" stroke-width="1.5"/><ellipse cx="915" cy="1380" rx="50" ry="20" fill="none" stroke="#900" stroke-width="1.5"/>
<path d="M786,1195 C810,1250 840,1240 870,1220 C890,1200 920,1160 932,1120 C960,1160 1010,1190 1035,1205 C1020,1260 980,1330 945,1345 C910,1350 880,1340 860,1310 C830,1270 800,1240 786,1195 Z" fill="url(#hot2)"/>
<path d="M870,1220 C895,1270 920,1330 945,1345 C980,1305 1020,1245 1035,1205 C1005,1255 970,1300 942,1285 C915,1265 890,1235 870,1220 Z" fill="url(#dk)"/>
<path d="M786,1195 C815,1178 850,1170 870,1220" fill="none" stroke="#ffe080" stroke-width="2"/>
<text class="tk" x="736" y="1158">×10<tspan font-size="10" dy="-7">4</tspan></text>
<text class="tk" x="772" y="1177" text-anchor="end">3</text><text class="tk" x="772" y="1236" text-anchor="end">2</text><text class="tk" x="772" y="1296" text-anchor="end">1</text><text class="tk" x="772" y="1355" text-anchor="end">0</text>
<text class="tk" x="770" y="1375" text-anchor="end">100</text><text class="tk" x="825" y="1416" text-anchor="end">0</text><text class="tk" x="882" y="1455" text-anchor="end">-100</text>
<text class="tk" x="897" y="1456">-100</text><text class="tk" x="972" y="1426">0</text><text class="tk" x="1045" y="1396">100</text>
<text class="tk" x="790" y="1462">x<tspan font-size="11" dy="5">2</tspan></text><text class="tk" x="982" y="1467">x<tspan font-size="11" dy="5">1</tspan></text>
<text class="tk" transform="translate(742,1323) rotate(-90)">F41( x<tspan font-size="11" dy="4">1</tspan><tspan dy="-4"> , x</tspan><tspan font-size="11" dy="4">2</tspan><tspan dy="-4"> )</tspan></text>

<text class="t" x="1273" y="1105" text-anchor="middle">Objective space</text>
<rect x="1142" y="1115" width="262" height="317" fill="#fff" stroke="#666"/>
<g class="g"><line x1="1196" y1="1115" x2="1196" y2="1432"/><line x1="1247" y1="1115" x2="1247" y2="1432"/><line x1="1298" y1="1115" x2="1298" y2="1432"/><line x1="1350" y1="1115" x2="1350" y2="1432"/><line x1="1142" y1="1165" x2="1404" y2="1165"/><line x1="1142" y1="1249" x2="1404" y2="1249"/><line x1="1142" y1="1333" x2="1404" y2="1333"/><line x1="1142" y1="1416" x2="1404" y2="1416"/></g>
<polyline class="c" stroke="#0020ff" points="1145,1130 1155,1135 1160,1150 1165,1165 1245,1165 1245,1175 1360,1175 1362,1200 1372,1200 1375,1280 1380,1310 1385,1330 1392,1340 1397,1340 1397,1357 1404,1357"/>
<polyline class="c" stroke="#00ffff" points="1145,1150 1155,1155 1165,1170 1175,1175 1390,1175 1392,1205 1400,1205 1402,1230"/>
<polyline class="c" stroke="#20e020" points="1145,1120 1150,1160 1158,1175 1275,1175 1280,1220 1285,1300 1290,1380 1296,1432"/>
<polyline class="c" stroke="#ff1010" points="1146,1150 1152,1175 1160,1200 1175,1200 1175,1218 1190,1218 1190,1245 1210,1245 1210,1285 1240,1285 1242,1320 1250,1340 1255,1385 1265,1385 1270,1410 1278,1410 1282,1432"/>
<polyline class="c" stroke="#000" points="1146,1165 1152,1178 1160,1178 1162,1230 1168,1280 1175,1320 1182,1340 1188,1345 1195,1365 1200,1375 1203,1400 1206,1432"/>
<polyline class="c" stroke="#ff00ff" points="1144,1120 1147,1280 1150,1420"/>
<polyline class="c" stroke="#70a030" points="1144,1118 1149,1300 1152,1420"/>
<polyline class="c" stroke="#a01828" points="1144,1118 1146,1200"/>
<g transform="translate(710,1084)">
<rect x="580" y="45" width="97" height="179" fill="#fff" stroke="#444"/>
<g stroke-width="3"><line x1="585" y1="58" x2="632" y2="58" stroke="#a01828"/><line x1="585" y1="80" x2="632" y2="80" stroke="#ff1010"/><line x1="585" y1="102" x2="632" y2="102" stroke="#20e020"/><line x1="585" y1="124" x2="632" y2="124" stroke="#0020ff"/><line x1="585" y1="146" x2="632" y2="146" stroke="#00ffff"/><line x1="585" y1="169" x2="632" y2="169" stroke="#ff00ff"/><line x1="585" y1="191" x2="632" y2="191" stroke="#000"/><line x1="585" y1="213" x2="632" y2="213" stroke="#70a030"/></g>
<g class="lg"><text x="637" y="63">LCA</text><text x="637" y="85">PSO</text><text x="637" y="107">TSA</text><text x="637" y="129">SSA</text><text x="637" y="151">MVO</text><text x="637" y="174">GWO</text><text x="637" y="196">WOA</text><text x="637" y="218">GJO</text></g></g>
<text class="tk" x="1138" y="1171" text-anchor="end">10<tspan font-size="10" dy="-7">0</tspan></text>
<text class="tk" x="1138" y="1255" text-anchor="end">10<tspan font-size="10" dy="-7">-5</tspan></text>
<text class="tk" x="1138" y="1339" text-anchor="end">10<tspan font-size="10" dy="-7">-10</tspan></text>
<text class="tk" x="1138" y="1422" text-anchor="end">10<tspan font-size="10" dy="-7">-15</tspan></text>
<text class="tk" x="1196" y="1460" text-anchor="middle">200</text><text class="tk" x="1247" y="1460" text-anchor="middle">400</text><text class="tk" x="1298" y="1460" text-anchor="middle">600</text><text class="tk" x="1350" y="1460" text-anchor="middle">800</text><text class="tk" x="1402" y="1460" text-anchor="middle">1000</text>
<text class="tk" x="1273" y="1485" text-anchor="middle" font-size="16">Iteration</text>
<text class="tk" font-size="16" transform="translate(1093,1275) rotate(-90)" text-anchor="middle">Best score obtained so far</text>
<text class="fl" x="1083" y="1519" text-anchor="middle">F41</text>
<text class="cap" x="710" y="1557" text-anchor="middle">(n)</text>
</svg>
</body></html>
